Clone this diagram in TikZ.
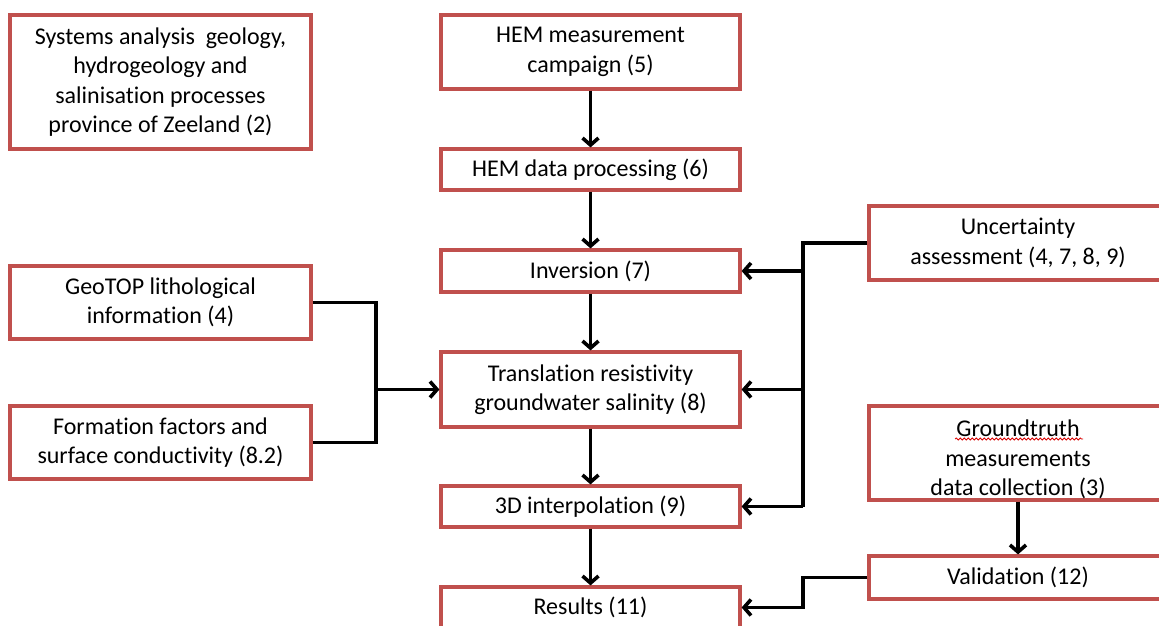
\documentclass[tikz,border=0pt]{standalone}
\usepackage{fontspec}
\setmainfont[Ligatures=NoCommon]{Carlito}
\usetikzlibrary{arrows.meta,decorations.pathmorphing}
\definecolor{boxred}{HTML}{C0504D}
\begin{document}
\begin{tikzpicture}[x=1pt,y=-1pt,
  box/.style={draw=boxred, line width=3.2pt, fill=white, align=center, inner sep=0pt,
    font=\fontsize{24}{29.5}\selectfont},
  conn/.style={line width=3.6pt, -{Straight Barb[length=7pt,width=16pt]}},
  link/.style={line width=3.6pt},
  squiggle/.style={draw=red!85!black, line width=0.8pt, decorate,
    decoration={snake, amplitude=1pt, segment length=4pt}}]
\useasboundingbox (0,0) rectangle (1159,626);
\clip (0,0) rectangle (1159,626);
\fill[white] (0,0) rectangle (1159,626);

\node[box, minimum width=301, minimum height=134] (sys) at (160.5,82)
  {Systems analysis\ \ geology,\\hydrogeology and\\salinisation processes\\province of Zeeland (2)};
\node[box, minimum width=299, minimum height=74] (camp) at (590.5,52)
  {HEM measurement\\campaign (5)};
\node[box, minimum width=299, minimum height=41] (proc) at (590.5,169.5)
  {HEM data processing (6)};
\node[box, minimum width=299, minimum height=42] (inv) at (590.5,271)
  {Inversion (7)};
\node[box, minimum width=299, minimum height=75] (trans) at (590.5,389.5)
  {Translation resistivity\\groundwater salinity (8)};
\node[box, minimum width=299, minimum height=41] (interp) at (590.5,506.5)
  {3D interpolation (9)};
\node[box, minimum width=299, minimum height=41] (res) at (590.5,607.5)
  {Results (11)};
\node[box, minimum width=301, minimum height=73] (geo) at (160.5,302.5)
  {GeoTOP lithological\\information (4)};
\node[box, minimum width=301, minimum height=73] (form) at (160.5,442.5)
  {Formation factors and\\surface conductivity (8.2)};
\node[box, minimum width=298, minimum height=74] (unc) at (1018,243)
  {Uncertainty\\assessment (4, 7, 8, 9)};
\node[box, minimum width=298, minimum height=94] (gt) at (1018,453)
  {\rule{0pt}{30pt}Groundtruth\\measurements\\data collection (3)};

\node[box, minimum width=298, minimum height=43] (val) at (1018,577.5)
  {Validation (12)};

\draw[squiggle] (955,439) -- (1083,439);

% main chain
\draw[conn] (camp) -- (proc);
\draw[conn] (proc) -- (inv);
\draw[conn] (inv) -- (trans);
\draw[conn] (trans) -- (interp);
\draw[conn] (interp) -- (res);

% left inputs
\coordinate (jl) at (376,389.5);
\draw[link] (geo.east) -| (jl);
\draw[link] (form.east) -| (jl);
\draw[conn] (jl) -- (trans.west);

% uncertainty
\coordinate (jrtop) at (803,243);
\coordinate (jrbot) at (803,506.5);
\draw[link] (unc.west) -- (jrtop) -- (jrbot);
\draw[conn] (inv.east -| jrtop) -- (inv.east);
\draw[conn] (trans.east -| jrtop) -- (trans.east);
\draw[conn] (jrbot) -- (interp.east);

% groundtruth -> validation
\draw[conn] (gt.south) -- (val.north);

% validation -> results
\coordinate (jv) at (803,577.5);
\draw[conn] (val.west) -- (jv) |- (res.east);
\end{tikzpicture}
\end{document}
